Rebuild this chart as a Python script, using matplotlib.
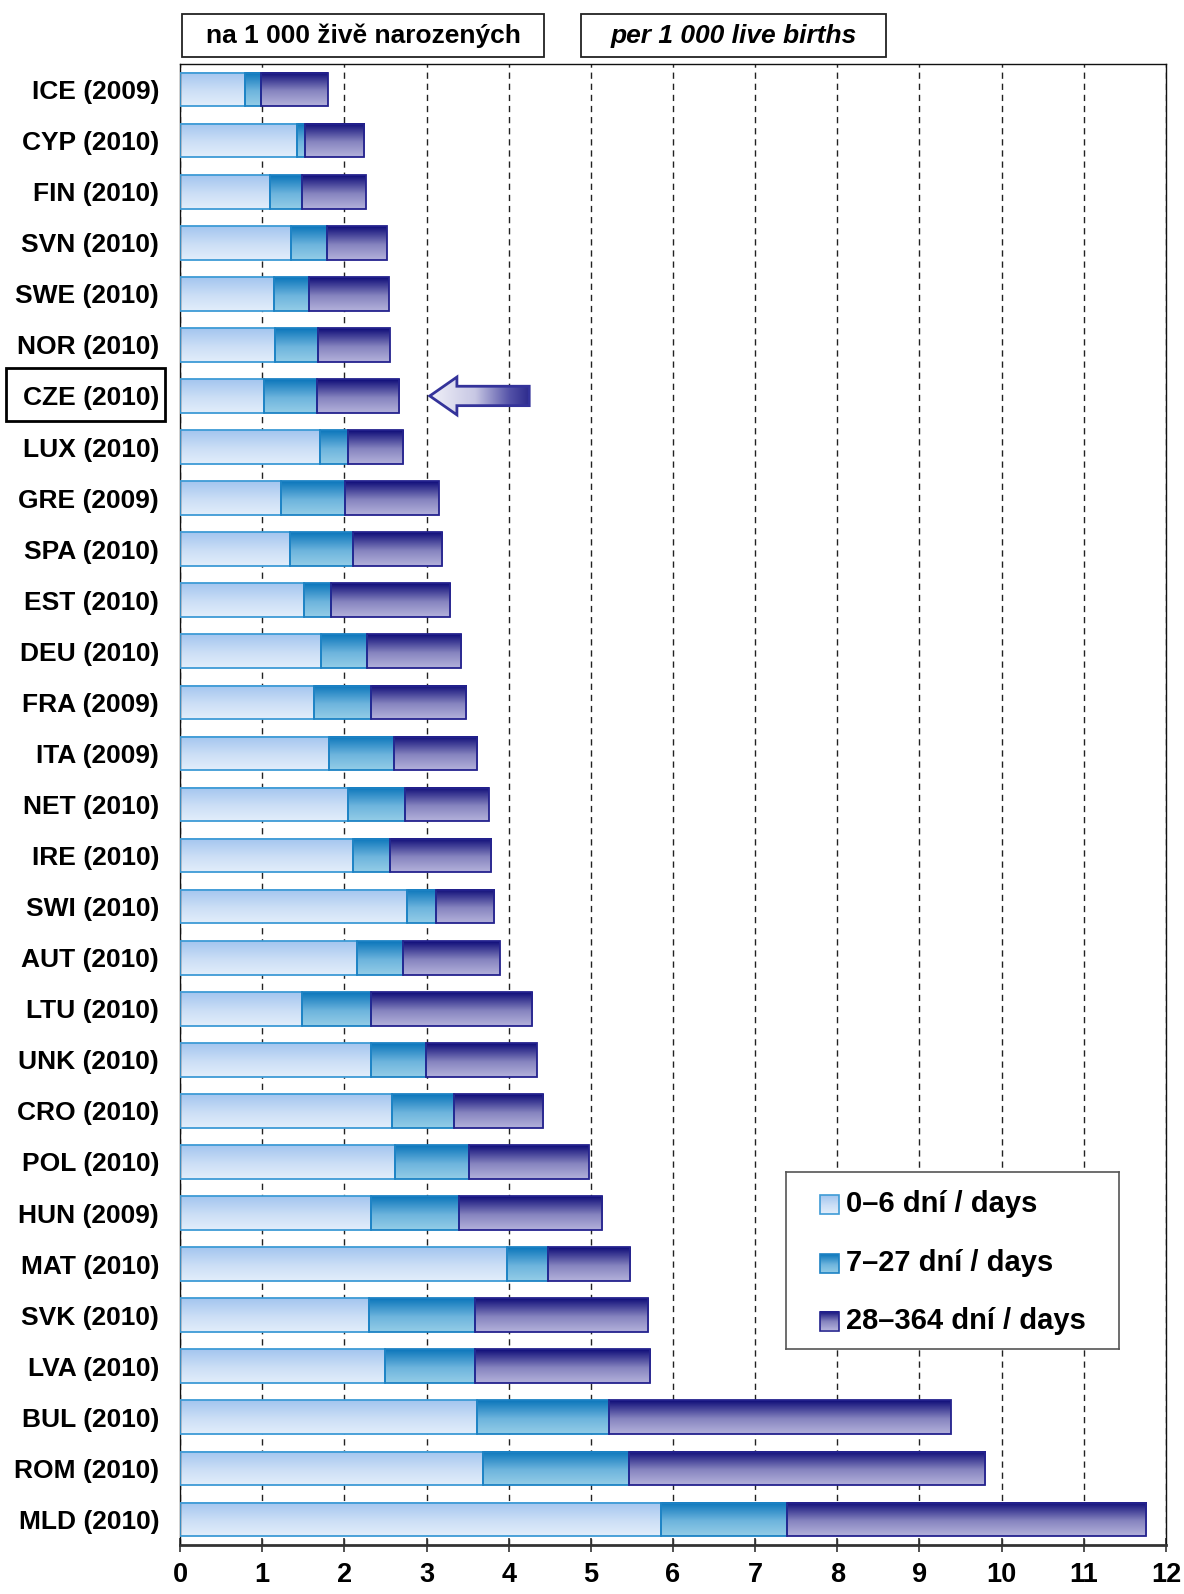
import matplotlib
matplotlib.use("Agg")
import matplotlib.pyplot as plt
import numpy as np
from matplotlib.colors import LinearSegmentedColormap
from matplotlib.patches import Polygon, Rectangle

plt.rcParams['font.family'] = ['Liberation Sans', 'DejaVu Sans']
plt.rcParams['font.weight'] = 'bold'

# ---------------- data ----------------
countries = ["ICE (2009)", "CYP (2010)", "FIN (2010)", "SVN (2010)", "SWE (2010)",
             "NOR (2010)", "CZE (2010)", "LUX (2010)", "GRE (2009)", "SPA (2010)",
             "EST (2010)", "DEU (2010)", "FRA (2009)", "ITA (2009)", "NET (2010)",
             "IRE (2010)", "SWI (2010)", "AUT (2010)", "LTU (2010)", "UNK (2010)",
             "CRO (2010)", "POL (2010)", "HUN (2009)", "MAT (2010)", "SVK (2010)",
             "LVA (2010)", "BUL (2010)", "ROM (2010)", "MLD (2010)"]
days_0_6 = [0.79, 1.43, 1.10, 1.35, 1.14, 1.16, 1.02, 1.70, 1.23, 1.34,
            1.51, 1.72, 1.63, 1.81, 2.05, 2.10, 2.76, 2.16, 1.49, 2.33,
            2.58, 2.62, 2.33, 3.98, 2.30, 2.50, 3.62, 3.69, 5.86]
days_7_27 = [0.20, 0.09, 0.39, 0.44, 0.43, 0.52, 0.65, 0.34, 0.78, 0.76,
             0.33, 0.55, 0.69, 0.79, 0.69, 0.45, 0.35, 0.56, 0.83, 0.66,
             0.75, 0.90, 1.06, 0.50, 1.29, 1.09, 1.60, 1.77, 1.53]
days_28_364 = [0.81, 0.72, 0.77, 0.73, 0.97, 0.87, 1.00, 0.68, 1.14, 1.09,
               1.45, 1.15, 1.16, 1.02, 1.02, 1.23, 0.71, 1.18, 1.97, 1.35,
               1.09, 1.46, 1.75, 1.00, 2.11, 2.13, 4.16, 4.34, 4.37]
series_labels = ["0\u20136 dn\u00ed / days", "7\u201327 dn\u00ed / days", "28\u2013364 dn\u00ed / days"]
x_ticks = list(range(0, 13))
highlight = "CZE (2010)"
header_cz = "na 1 000 \u017eiv\u011b narozen\u00fdch"
header_en = "per 1 000 live births"

# ---------------- styles ----------------
cmaps = [
    LinearSegmentedColormap.from_list("s1", [(0, "#A3C5EF"), (0.55, "#CCDFF6"), (1, "#E2EEFB")]),
    LinearSegmentedColormap.from_list("s2", [(0, "#0B76BB"), (0.55, "#6DB4DD"), (1, "#94CDE7")]),
    LinearSegmentedColormap.from_list("s3", [(0, "#0E0C78"), (0.55, "#8684BF"), (1, "#B3B1DB")]),
]
edges = ["#3E9BD6", "#1C82C4", "#24228E"]
grad = np.linspace(0, 1, 128).reshape(-1, 1)

W, H = 1184, 1594
fig = plt.figure(figsize=(W / 100, H / 100), dpi=100)
ax_l, ax_r, ax_t, ax_b = 180, 1166, 64, 1545
ax = fig.add_axes([ax_l / W, 1 - ax_b / H, (ax_r - ax_l) / W, (ax_b - ax_t) / H])

y = np.arange(len(countries))
lefts = np.zeros(len(countries))
bar_h = 0.66
for vals, cm, ec in zip([days_0_6, days_7_27, days_28_364], cmaps, edges):
    bars = ax.barh(y, vals, left=lefts, height=bar_h, facecolor="none",
                   edgecolor=ec, linewidth=1.3, zorder=3)
    for rect in bars:
        x0, yy = rect.get_x(), rect.get_y()
        w, h = rect.get_width(), rect.get_height()
        ax.imshow(grad, cmap=cm, aspect="auto", interpolation="bilinear",
                  extent=(x0, x0 + w, yy + h, yy), zorder=2, origin="upper")
    lefts = lefts + np.array(vals)

ax.set_xlim(0, 12)
ax.set_ylim(len(countries) - 0.5, -0.5)
ax.set_xticks(x_ticks)
ax.set_yticks(y)
ax.set_yticklabels(countries, fontsize=19, fontweight="bold")
ax.tick_params(axis="y", length=0, pad=15)
ax.tick_params(axis="x", direction="inout", length=10, width=1.2, color="#333333",
               labelsize=19.5, pad=7)
for lab in ax.get_xticklabels():
    lab.set_fontweight("bold")
ax.xaxis.grid(True, linestyle=(0, (4.5, 3.5)), color="#222222", linewidth=1.0, zorder=0.5)
ax.set_axisbelow(True)
for s in ["top", "right", "left"]:
    ax.spines[s].set_color("#111111")
    ax.spines[s].set_linewidth(1.0)
ax.spines["bottom"].set_color("#333333")
ax.spines["bottom"].set_linewidth(2.0)

# highlighted label box (around the CZE tick label)
fig.patches.append(Rectangle((6 / W, 1 - 421 / H), (165 - 6) / W, (421 - 368) / H,
                             transform=fig.transFigure, facecolor="none",
                             edgecolor="black", linewidth=2.0))

# arrow pointing at highlighted bar
yc = countries.index(highlight)
tip, head_back, tail = 3.04, 3.37, 4.25
h1, h2 = 0.37, 0.19
arrow_pts = [(tip, yc), (head_back, yc - h1), (head_back, yc - h2), (tail, yc - h2),
             (tail, yc + h2), (head_back, yc + h2), (head_back, yc + h1)]
arrow = Polygon(arrow_pts, closed=True, facecolor="none", edgecolor="#34339A",
                linewidth=2.0, zorder=6)
ax.add_patch(arrow)
acm = LinearSegmentedColormap.from_list("arr", [(0, "#F0F0F8"), (0.45, "#C8C8E4"),
                                                (0.8, "#5452A8"), (1, "#2C2A8C")])
aim = ax.imshow(np.linspace(0, 1, 128).reshape(1, -1), cmap=acm, aspect="auto",
                interpolation="bilinear", extent=(tip, tail, yc + h1, yc - h1), zorder=5)
aim.set_clip_path(arrow)
ax.set_xlim(0, 12)
ax.set_ylim(len(countries) - 0.5, -0.5)

# legend (drawn as inset panel)
lx0, lx1, ly0, ly1 = 786, 1119, 1172, 1349
lg = ax.inset_axes([(lx0 - ax_l) / (ax_r - ax_l), (ax_b - ly1) / (ax_b - ax_t),
                    (lx1 - lx0) / (ax_r - ax_l), (ly1 - ly0) / (ax_b - ax_t)])
lg.set_xlim(0, 1)
lg.set_ylim(0, 1)
lg.set_xticks([])
lg.set_yticks([])
lg.set_facecolor("white")
lg.set_zorder(10)
for s in lg.spines.values():
    s.set_color("#555555")
    s.set_linewidth(1.2)
sq_w, sq_h = 19 / (lx1 - lx0), 19 / (ly1 - ly0)
sq_x = (820 - lx0) / (lx1 - lx0)
txt_x = (846 - lx0) / (lx1 - lx0)
rows = [(ly1 - 1204) / (ly1 - ly0), (ly1 - 1263) / (ly1 - ly0), (ly1 - 1321) / (ly1 - ly0)]
for ry, cm, ec, lab in zip(rows, cmaps, edges, series_labels):
    lg.imshow(grad, cmap=cm, aspect="auto", interpolation="bilinear",
              extent=(sq_x, sq_x + sq_w, ry - sq_h / 2, ry + sq_h / 2), zorder=2)
    lg.add_patch(Rectangle((sq_x, ry - sq_h / 2), sq_w, sq_h, facecolor="none",
                           edgecolor=ec, linewidth=1.2, zorder=3))
    lg.text(txt_x, ry, lab, fontsize=21, fontweight="bold", va="center", ha="left")
lg.set_xlim(0, 1)
lg.set_ylim(0, 1)

# header boxes
def header(x0, x1, y0, y1, text, style):
    fig.patches.append(Rectangle((x0 / W, 1 - y1 / H), (x1 - x0) / W, (y1 - y0) / H,
                                 transform=fig.transFigure, facecolor="white",
                                 edgecolor="#222222", linewidth=1.3))
    fig.text((x0 + x1) / 2 / W, 1 - (y0 + y1) / 2 / H, text, fontsize=19,
             fontweight="bold", fontstyle=style, ha="center", va="center")

header(182, 544, 14, 57, header_cz, "normal")
header(581, 886, 14, 57, header_en, "italic")

fig.savefig("out.png", dpi=100)
